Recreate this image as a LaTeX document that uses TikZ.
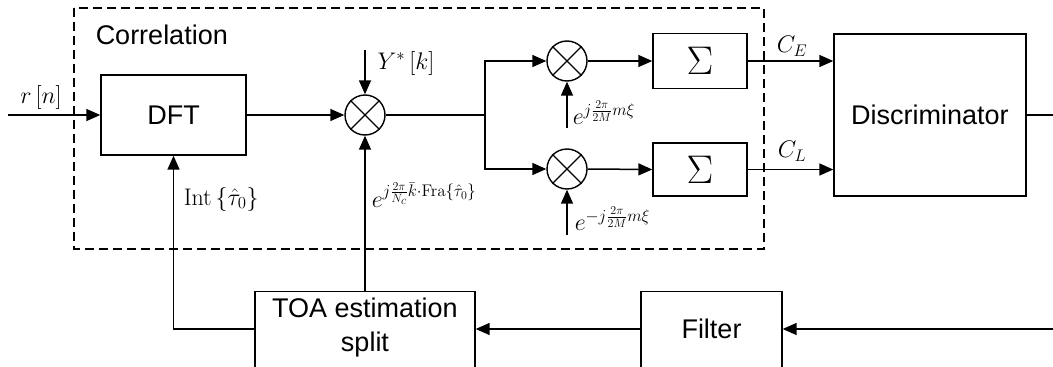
\documentclass[tikz,border=0pt]{standalone}
\usepackage{fix-cm}
\usepackage[no-math]{fontspec}
\setmainfont{Liberation Sans}
\usetikzlibrary{arrows.meta}
\begin{document}
\begin{tikzpicture}[x=1pt,y=-1pt,
  line width=1.5pt,
  box/.style={draw, line width=1.4pt, inner sep=0pt, font=\fontsize{27}{33}\selectfont},
  txt/.style={inner sep=0pt, font=\fontsize{27}{34}\selectfont, align=center},
  mix/.style={draw, circle, minimum size=40pt, inner sep=0pt, line width=1.4pt},
  arr/.style={-{Triangle[length=14pt,width=12pt]}},
  lbl/.style={inner sep=0pt, font=\fontsize{24}{28}\selectfont},
]
\clip (0,0) rectangle (1053,367);
\fill[white] (0,0) rectangle (1053,367);
% correlation frame
\draw[dash pattern=on 9pt off 5pt, line width=1.4pt] (74,8) rectangle (764,249);
\node[txt, anchor=west] (corr) at (95,35) {Correlation};
% blocks
\node[box, minimum width=145pt, minimum height=80pt] (dft) at (173.5,115) {DFT};
\node[mix] (m1) at (365,115) {};
\node[mix] (m2) at (567,61) {};
\node[mix] (m3) at (567,169) {};
\foreach \m in {m1,m2,m3}{\draw[line width=1.2pt] (\m.45)--(\m.225) (\m.135)--(\m.-45);}
\node[box, minimum width=94pt, minimum height=55pt, font=\fontsize{40}{44}\selectfont] (s1) at (700,61) {$\Sigma$};
\node[box, minimum width=94pt, minimum height=53pt, font=\fontsize{40}{44}\selectfont] (s2) at (700,169.5) {$\Sigma$};
\node[box, minimum width=192pt, minimum height=162pt] (disc) at (930,115) {Discriminator};
\node[box, minimum width=220pt, minimum height=95pt, anchor=north] (toa) at (365,291) {};
\node[txt] (toatext) at (365,328) {TOA estimation\\split};
\node[box, minimum width=141pt, minimum height=95pt, anchor=north] (filter) at (711.5,291) {};
\node[txt] (filtertext) at (711.5,329) {Filter};
% coordinates
\coordinate (in) at (8,115);
\coordinate (ytop) at (365,50);
\coordinate (split) at (485,115);
\coordinate (e2) at (567,128);
\coordinate (e3) at (567,235);
\coordinate (dout) at (1060,115);
\coordinate (rin) at (1060,329);
% connectors
\draw[arr] (in) -- (dft.west);
\draw[arr] (dft.east) -- (m1.west);
\draw[arr] (ytop) -- (m1.north);
\draw (m1.east) -- (split);
\draw[arr] (split) |- (m2.west);
\draw[arr] (split) |- (m3.west);
\draw[arr] (e2) -- (m2.south);
\draw[arr] (e3) -- (m3.south);
\draw[arr] (m2.east) -- (s1.west);
\draw[arr] (m3.east) -- (s2.west);
\draw[arr] (s1.east) -- (disc.west |- s1.east);
\draw[arr] (s2.east) -- (disc.west |- s2.east);
\draw (disc.east) -- (dout);
\draw[arr] (rin) -- (filter.east |- rin);
\draw[arr] (filter.west |- rin) -- (toa.east |- rin);
\draw[arr] (toa.west |- rin) -| (dft.south);
\draw[arr] (toa.north) -- (m1.south);
% labels
\node[lbl] (rn) at (41,97) {$r\left[n\right]$};
\node[lbl] (yk) at (406,63) {$Y^{*}\left[k\right]$};
\node[lbl, anchor=base west] (ep) at (572,124) {$e^{j\frac{2\pi}{2M}m\xi}$};
\node[lbl, anchor=base west] (em) at (574,230) {$e^{-j\frac{2\pi}{2M}m\xi}$};
\node[lbl, anchor=base west] (ef) at (371,207) {$e^{j\frac{2\pi}{N_c}\bar{k}\cdot\mathrm{Fra}\{\hat{\tau}_0\}}$};
\node[lbl, anchor=base west] (int) at (183,205) {$\mathrm{Int}\left\{\hat{\tau}_0\right\}$};
\node[lbl] (ce) at (792,46) {$C_E$};
\node[lbl] (cl) at (792,151) {$C_L$};
\end{tikzpicture}
\end{document}
